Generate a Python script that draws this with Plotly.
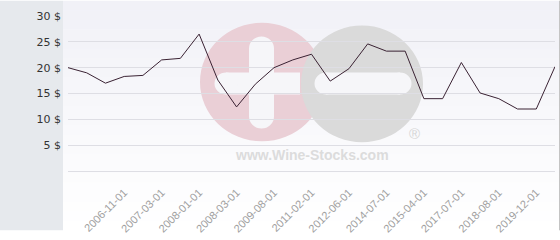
import plotly.graph_objects as go

# ---- data ----
prices = [20.0, 19.0, 17.0, 18.3, 18.5, 21.5, 21.8, 26.5, 17.6, 12.4, 16.8, 20.0, 21.5, 22.6,
          17.4, 19.8, 24.6, 23.2, 23.2, 14.0, 14.0, 21.0, 15.1, 14.0, 12.0, 12.0, 20.2]
tick_positions = [3, 5, 7, 9, 11, 13, 15, 17, 19, 21, 23, 25]
tick_labels = ["2006-11-01", "2007-03-01", "2008-01-01", "2008-03-01", "2009-08-01", "2011-02-01",
               "2012-06-01", "2014-07-01", "2015-04-01", "2017-07-01", "2018-08-01", "2019-12-01"]
y_ticks = [5, 10, 15, 20, 25, 30]
y_labels = [f"{v} $" for v in y_ticks]

W, H = 560, 240
L, R, T, B = 68, 5, 16, 62
PW, PH = W - L - R, H - T - B


def px(x):
    return (x - L) / PW


def py(y):
    return (H - B - y) / PH


shapes = []
# left band
shapes.append(dict(type="rect", xref="paper", yref="paper", x0=px(0), x1=px(63), y0=py(240), y1=py(0),
                   fillcolor="#e6e9ed", line_width=0, layer="below"))
# gradient panel
n = 24
for i in range(n):
    t = i / (n - 1)
    c = lambda a: int(round(a + (255 - a) * t))
    col = f"rgb({c(241)},{c(241)},{c(247)})"
    shapes.append(dict(type="rect", xref="paper", yref="paper", x0=px(63), x1=px(560),
                       y0=py(i * 10 + 10.5), y1=py(i * 10), fillcolor=col, line_width=0, layer="below"))


def circle(cx, cy, r, col):
    return dict(type="circle", xref="paper", yref="paper", x0=px(cx - r), x1=px(cx + r),
                y0=py(cy + r), y1=py(cy - r), fillcolor=col, line_width=0, layer="below")


def rect(x0, y0, x1, y1, col):
    return dict(type="rect", xref="paper", yref="paper", x0=px(x0), x1=px(x1),
                y0=py(y1), y1=py(y0), fillcolor=col, line_width=0, layer="below")


# watermark
shapes.append(circle(262, 85, 62, "#eacfd6"))
shapes.append(circle(362, 87, 61, "#dadada"))
wc = "#f6f6f9"
# plus
shapes.append(rect(249, 50, 274, 121, wc))
shapes.append(circle(261.5, 50, 12.5, wc))
shapes.append(circle(261.5, 121, 12.5, wc))
shapes.append(rect(226, 75, 300, 98, wc))
shapes.append(circle(226, 86.5, 11.5, wc))
# minus
shapes.append(rect(326, 75, 400, 98, wc))
shapes.append(circle(326, 86.5, 11.5, wc))
shapes.append(circle(400, 86.5, 11.5, wc))
# right border
shapes.append(dict(type="line", xref="paper", yref="paper", x0=px(559.5), x1=px(559.5), y0=py(240), y1=py(0),
                   line=dict(color="#c4c4c4", width=1), layer="above"))

annotations = [
    dict(text="<b>www.Wine-Stocks.com</b>", xref="paper", yref="paper", x=px(312), y=py(161), showarrow=False,
         font=dict(family="Liberation Sans", size=14, color="#dcdcdc"), xanchor="center", yanchor="middle"),
    dict(text="®", xref="paper", yref="paper", x=px(414), y=py(139), showarrow=False,
         font=dict(family="Liberation Sans", size=15, color="#d6d6d6"), xanchor="center", yanchor="middle"),
]

fig = go.Figure()
fig.add_trace(go.Scatter(x=list(range(len(prices))), y=prices, mode="lines",
                         line=dict(color="#3a2233", width=1), hoverinfo="skip"))

fig.update_layout(
    width=W, height=H, margin=dict(l=L, r=R, t=T, b=B, pad=0),
    paper_bgcolor="white", plot_bgcolor="rgba(0,0,0,0)",
    showlegend=False, shapes=shapes, annotations=annotations,
    xaxis=dict(range=[0, len(prices) - 1], tickmode="array", tickvals=tick_positions, ticktext=tick_labels,
               tickangle=-45, showgrid=False, zeroline=False, showline=False, ticks="",
               ticklabelstandoff=12,
               tickfont=dict(family="Liberation Sans", size=11, color="#a0a0a0")),
    yaxis=dict(range=[0, 30], tickmode="array", tickvals=y_ticks, ticktext=y_labels,
               showgrid=True, gridcolor="#dedee4", gridwidth=1, zeroline=True, zerolinecolor="#dedee4",
               zerolinewidth=1, showline=False, ticks="", ticklabelstandoff=6,
               tickfont=dict(family="DejaVu Sans", size=11, color="#333333")),
)

fig.write_html("out.html")
